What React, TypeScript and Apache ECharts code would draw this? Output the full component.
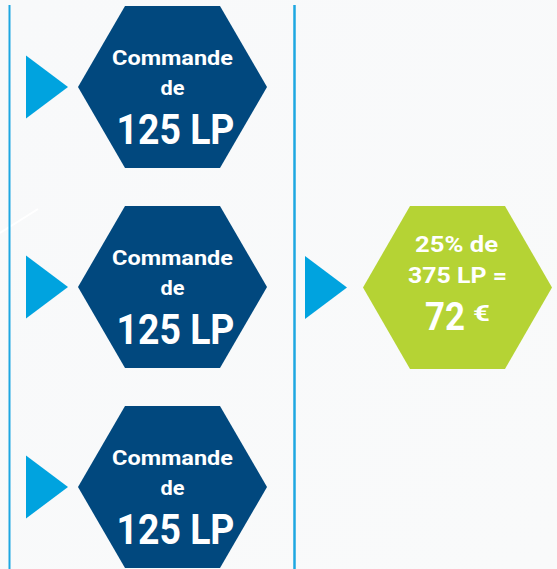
import React, { useEffect, useRef } from "react";
import * as echarts from "echarts";

// ---- data ----
const orderQuantities = [125, 125, 125];
const orderLabel = "Commande";
const orderConnector = "de";
const unit = "LP";
const sharePercent = 25;
const totalQuantity = orderQuantities.reduce((a, b) => a + b, 0); // 375
const resultEuro = 72;
const currency = "€";

// ---- layout ----
const W = 557;
const H = 569;
const FONT = "Roboto, 'Noto Sans', sans-serif";
const DARK_BLUE = "#01487e";
const LIGHT_BLUE = "#00a3df";
const LINE_BLUE = "#1ea7e1";
const GREEN = "#b5d334";

const measureCtx = (() => {
  const c = document.createElement("canvas");
  return c.getContext("2d")!;
})();

function fitText(text: string, cx: number, cy: number, size: number, targetW: number, z = 10) {
  const font = `bold ${size}px ${FONT}`;
  measureCtx.font = font;
  const w = measureCtx.measureText(text).width || targetW;
  const sx = targetW / w;
  return {
    type: "text",
    x: cx,
    y: cy,
    scaleX: sx,
    z,
    style: {
      text,
      x: 0,
      y: 0,
      font,
      fill: "#ffffff",
      textAlign: "center",
      textVerticalAlign: "middle",
    },
  };
}

function hexagon(cx: number, cy: number, halfTop: number, halfW: number, halfH: number, color: string) {
  return {
    type: "polygon",
    z: 5,
    shape: {
      points: [
        [cx - halfTop, cy - halfH],
        [cx + halfTop, cy - halfH],
        [cx + halfW, cy],
        [cx + halfTop, cy + halfH],
        [cx - halfTop, cy + halfH],
        [cx - halfW, cy],
      ],
    },
    style: { fill: color },
  };
}

function triangle(x0: number, tipX: number, cy: number, halfH: number) {
  return {
    type: "polygon",
    z: 5,
    shape: { points: [[x0, cy - halfH], [tipX, cy], [x0, cy + halfH]] },
    style: { fill: LIGHT_BLUE },
  };
}

export default function App() {
  const ref = useRef<HTMLDivElement>(null);

  useEffect(() => {
    document.body.style.margin = "0";
    if (!ref.current) return;
    const chart = echarts.init(ref.current, null, { renderer: "svg" });

    const elements: any[] = [];
    // background
    elements.push({
      type: "rect",
      z: 0,
      shape: { x: 0, y: 0, width: W, height: H },
      style: {
        fill: new echarts.graphic.LinearGradient(0, 0, 1, 1, [
          { offset: 0, color: "#f8f9fa" },
          { offset: 1, color: "#f9fafa" },
        ]),
      },
    });
    // subtle white streak
    elements.push({
      type: "line",
      z: 1,
      shape: { x1: 0, y1: 233, x2: 38, y2: 209 },
      style: { stroke: "#ffffff", lineWidth: 2 },
    });
    // vertical lines
    elements.push({
      type: "line",
      z: 2,
      shape: { x1: 9.5, y1: 5, x2: 9.5, y2: H },
      style: { stroke: LINE_BLUE, lineWidth: 2 },
    });
    elements.push({
      type: "line",
      z: 2,
      shape: { x1: 294.5, y1: 5, x2: 294.5, y2: H },
      style: { stroke: LINE_BLUE, lineWidth: 2.5 },
    });

    const rowCenters = [87, 287, 487];
    const hexCx = 172.5;
    orderQuantities.forEach((q, i) => {
      const cy = rowCenters[i];
      elements.push(triangle(26, 68, cy, 31.5));
      elements.push(hexagon(hexCx, cy, 47.5, 94.5, 81, DARK_BLUE));
      elements.push(fitText(orderLabel, hexCx, cy - 29.5, 21, 121));
      elements.push(fitText(orderConnector, hexCx, cy + 0.5, 21, 24));
      elements.push(fitText(`${q} ${unit}`, hexCx + 3, cy + 43, 42, 118));
    });

    // result
    const gcx = 457.5;
    const gcy = 287.5;
    elements.push(triangle(305, 347, gcy, 31.5));
    elements.push(hexagon(gcx, gcy, 47.5, 94.5, 81.5, GREEN));
    elements.push(fitText(`${sharePercent}% ${orderConnector}`, gcx - 1, gcy - 42.5, 22, 83));
    elements.push(fitText(`${totalQuantity} ${unit} =`, gcx, gcy - 11.5, 22, 99));
    elements.push(fitText(`${resultEuro}`, 445, gcy + 29.2, 38, 40));
    elements.push(fitText(currency, 481.5, gcy + 26, 22, 17));

    chart.setOption({
      animation: false,
      graphic: { elements },
    });

    return () => chart.dispose();
  }, []);

  return <div ref={ref} style={{ width: W, height: H }} />;
}
